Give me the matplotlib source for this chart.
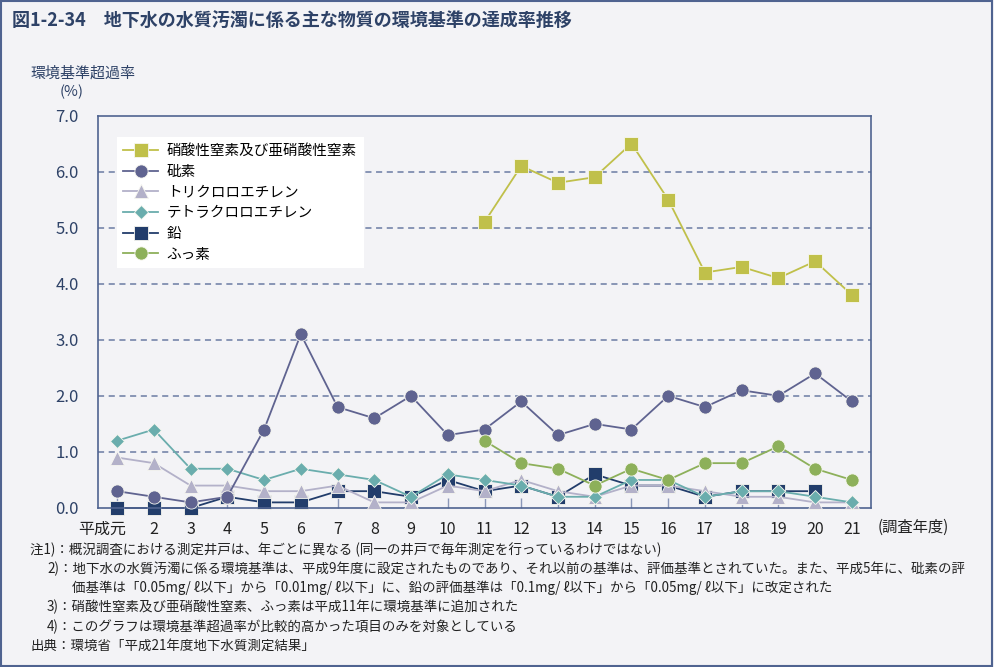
import numpy as np
import matplotlib
matplotlib.use("Agg")
import matplotlib.pyplot as plt
from matplotlib.patches import Rectangle
from matplotlib.transforms import ScaledTranslation

plt.rcParams['font.family'] = ['Noto Sans CJK JP', 'DejaVu Sans']

nan = np.nan

# 調査年度 (平成元 .. 21)
years = ['平成元'] + [str(i) for i in range(2, 22)]

nitrate = [nan] * 10 + [5.1, 6.1, 5.8, 5.9, 6.5, 5.5, 4.2, 4.3, 4.1, 4.4, 3.8]
arsenic = [0.3, 0.2, 0.1, 0.2, 1.4, 3.1, 1.8, 1.6, 2.0, 1.3, 1.4,
           1.9, 1.3, 1.5, 1.4, 2.0, 1.8, 2.1, 2.0, 2.4, 1.9]
trichloro = [0.9, 0.8, 0.4, 0.4, 0.3, 0.3, 0.4, 0.1, 0.1, 0.4, 0.3,
             0.5, 0.3, 0.2, 0.4, 0.4, 0.3, 0.2, 0.2, 0.1, 0.1]
tetrachloro = [1.2, 1.4, 0.7, 0.7, 0.5, 0.7, 0.6, 0.5, 0.2, 0.6, 0.5,
               0.4, 0.2, 0.2, 0.5, 0.5, 0.2, 0.3, 0.3, 0.2, 0.1]
lead = [0.0, 0.0, 0.0, 0.2, 0.1, 0.1, 0.3, 0.3, 0.2, 0.5, 0.3,
        0.4, 0.2, 0.6, 0.4, 0.4, 0.2, 0.3, 0.3, 0.3, nan]
fluorine = [nan] * 10 + [1.2, 0.8, 0.7, 0.4, 0.7, 0.5, 0.8, 0.8, 1.1, 0.7, 0.5]

names = ['硝酸性窒素及び亜硝酸性窒素', '砒素', 'トリクロロエチレン',
         'テトラクロロエチレン', '鉛', 'ふっ素']

notes = [
    (30, 550, '注1)：概況調査における測定井戸は、年ごとに異なる (同一の井戸で毎年測定を行っているわけではない)'),
    (47, 569, '2)：地下水の水質汚濁に係る環境基準は、平成9年度に設定されたものであり、それ以前の基準は、評価基準とされていた。また、平成5年に、砒素の評'),
    (72, 588, '価基準は「0.05mg/ ℓ以下」から「0.01mg/ ℓ以下」に、鉛の評価基準は「0.1mg/ ℓ以下」から「0.05mg/ ℓ以下」に改定された'),
    (47, 607, '3)：硝酸性窒素及び亜硝酸性窒素、ふっ素は平成11年に環境基準に追加された'),
    (47, 627, '4)：このグラフは環境基準超過率が比較的高かった項目のみを対象としている'),
    (30, 646, '出典：環境省「平成21年度地下水質測定結果」'),
]

BG = '#f3f3f6'
NAVY = '#2e4267'
AXIS = '#4f6390'

W, H = 994, 667
fig = plt.figure(figsize=(W / 100, H / 100), dpi=100, facecolor=BG)
ax = fig.add_axes([98 / W, 1 - 508 / H, (871 - 98) / W, (508 - 115.5) / H])
ax.set_facecolor(BG)

x = np.arange(len(years))

# (data, color, marker, size, zorder)
series = [
    (nitrate, '#c0c04a', 's', 9.5, 7),
    (arsenic, '#5f6390', 'o', 9.5, 5),
    (trichloro, '#b3b1c9', '^', 9.5, 3),
    (tetrachloro, '#6aadad', 'D', 7.5, 4),
    (lead, '#223d6b', 's', 9.5, 2),
    (fluorine, '#8db05a', 'o', 9.5, 6),
]
for (vals, col, mk, ms, z), name in zip(series, names):
    ax.plot(x, vals, color=col, marker=mk, markersize=ms, linewidth=1.3,
            markeredgecolor='#f7f7f0', markeredgewidth=0.6, label=name,
            zorder=z, clip_on=False)

ax.set_xlim(-0.52, 20.52)
ax.set_ylim(0, 7)
ax.set_yticks(np.arange(0, 7.1, 1))
ax.set_yticklabels([f'{v:.1f}' for v in np.arange(0, 7.1, 1)])
ax.set_xticks(x)
ax.set_xticklabels(years)

ax.tick_params(axis='y', length=0, pad=14, labelsize=12, labelcolor=NAVY)
ax.tick_params(axis='x', direction='in', length=7, width=1, color='#8a97b8',
               pad=9, labelsize=11.5, labelcolor='#222222')

# 平成元 sits a little to the left of its tick
first = ax.get_xticklabels()[0]
first.set_transform(first.get_transform() + ScaledTranslation(-0.15, 0, fig.dpi_scale_trans))

for ypos in range(1, 7):
    ax.axhline(ypos, color='#6a7ba3', linestyle=(0, (4, 3)), linewidth=1.1, zorder=1)

for s in ax.spines.values():
    s.set_color(AXIS)
    s.set_linewidth(1.2)

leg = ax.legend(loc='upper left', bbox_to_anchor=(0.024, 0.944), borderaxespad=0,
                frameon=True, fancybox=False, facecolor='white', edgecolor='none',
                framealpha=1, fontsize=10.5, handlelength=2.4, handletextpad=0.6,
                labelspacing=0.46, borderpad=0.45)
leg.set_zorder(10)

# title and axis labels
fig.text(12 / W, 1 - 20 / H, '図1-2-34　地下水の水質汚濁に係る主な物質の環境基準の達成率推移',
         fontsize=13, fontweight='bold', color=NAVY, va='center', ha='left')
fig.text(30 / W, 1 - 73 / H, '環境基準超過率', fontsize=10.8, color=NAVY, va='center', ha='left')
fig.text(72 / W, 1 - 92 / H, '(%)', fontsize=10.8, color=NAVY, va='center', ha='center')
fig.text(878 / W, 1 - 527 / H, '(調査年度)', fontsize=11, color='#222222', va='center', ha='left')

for nx, ny, txt in notes:
    fig.text(nx / W, 1 - ny / H, txt, fontsize=9.7, color='#222222', va='center', ha='left')

# frame around the whole figure
fig.patches.append(Rectangle((0.001, 0.002), 0.997, 0.996, transform=fig.transFigure,
                             fill=False, edgecolor=AXIS, linewidth=1.5))

fig.savefig('out.png', dpi=100, facecolor=BG)
